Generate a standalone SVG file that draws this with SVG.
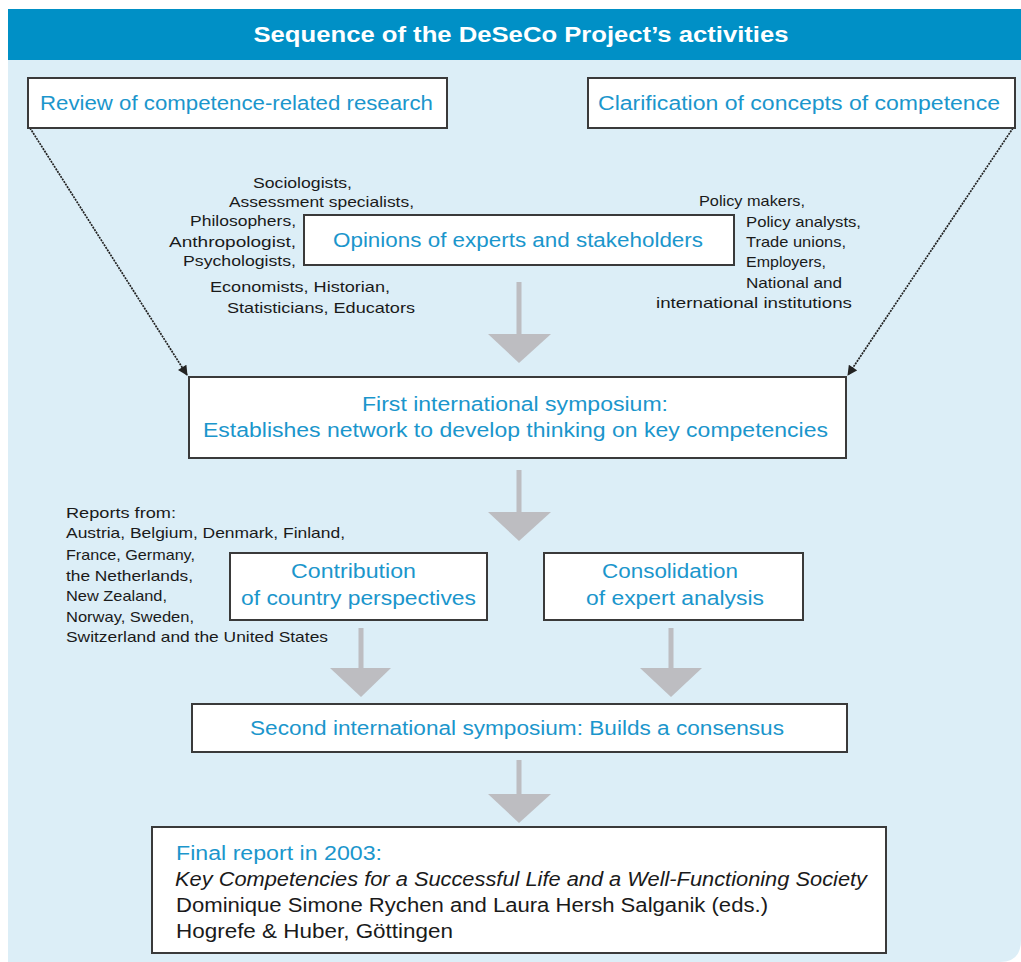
<svg xmlns="http://www.w3.org/2000/svg" width="1021" height="962" viewBox="0 0 1021 962">
<style>
.box{fill:#fff;stroke:#3a3a3a;stroke-width:2}
.bt{font-family:"Liberation Sans",Arial,sans-serif;font-size:20px;fill:#1b96cc}
.sm{font-family:"Liberation Sans",Arial,sans-serif;font-size:14.5px;fill:#1a1a1a}
.fk{font-family:"Liberation Sans",Arial,sans-serif;font-size:20px;fill:#1a1a1a}
.diag{stroke:#222;stroke-width:1.7;stroke-dasharray:2 1;fill:none}
.gshaft{stroke:#bdbdc1;stroke-width:5}
.ghead{fill:#bdbdc1}
</style>
<defs>
<marker id="ah" viewBox="0 0 10 10" refX="9" refY="5" markerWidth="11" markerHeight="10" orient="auto" markerUnits="userSpaceOnUse">
<path d="M0,0 L10,5 L0,10 z" fill="#222"/>
</marker>
</defs>
<rect x="0" y="0" width="1021" height="962" fill="#fff"/>
<path d="M8,60 H1021 V940 Q1021,962 1000,962 H8 Z" fill="#dceef7"/>
<rect x="8" y="9" width="1013" height="51" fill="#0090c6"/>
<text x="521" y="42" text-anchor="middle" font-family="'Liberation Sans',Arial,sans-serif" font-size="22" font-weight="bold" fill="#fff" textLength="535" lengthAdjust="spacingAndGlyphs">Sequence of the DeSeCo Project’s activities</text>

<g id="connectors">
<line class="diag" x1="30" y1="128" x2="187" y2="375" marker-end="url(#ah)"/>
<line class="diag" x1="1013" y1="128" x2="848" y2="375" marker-end="url(#ah)"/>
<line class="gshaft" x1="519" y1="282" x2="519" y2="336"/>
<polygon class="ghead" points="488,334 551,334 519,363"/>
<line class="gshaft" x1="519" y1="470" x2="519" y2="514"/>
<polygon class="ghead" points="488,512 551,512 519,541"/>
<line class="gshaft" x1="361" y1="628" x2="361" y2="670"/>
<polygon class="ghead" points="330,668 391,668 361,697"/>
<line class="gshaft" x1="671" y1="628" x2="671" y2="670"/>
<polygon class="ghead" points="640,668 702,668 671,697"/>
<line class="gshaft" x1="519" y1="760" x2="519" y2="796"/>
<polygon class="ghead" points="488,794 551,794 519,823"/>
</g>

<g id="review">
<rect class="box" x="28" y="78" width="419" height="50"/>
<text class="bt" x="40" y="110" textLength="393" lengthAdjust="spacingAndGlyphs">Review of competence-related research</text>
</g>
<g id="clarification">
<rect class="box" x="588" y="78" width="427" height="50"/>
<text class="bt" x="598" y="110" textLength="402" lengthAdjust="spacingAndGlyphs">Clarification of concepts of competence</text>
</g>
<g id="opinions">
<rect class="box" x="304" y="215" width="430" height="50"/>
<text class="bt" x="333" y="247" textLength="370" lengthAdjust="spacingAndGlyphs">Opinions of experts and stakeholders</text>
</g>
<g id="experts-left">
<text class="sm" x="253" y="188" textLength="99" lengthAdjust="spacingAndGlyphs">Sociologists,</text>
<text class="sm" x="229" y="207" textLength="185" lengthAdjust="spacingAndGlyphs">Assessment specialists,</text>
<text class="sm" x="190" y="226" textLength="106" lengthAdjust="spacingAndGlyphs">Philosophers,</text>
<text class="sm" x="169" y="247" textLength="127" lengthAdjust="spacingAndGlyphs">Anthropologist,</text>
<text class="sm" x="183" y="266" textLength="113" lengthAdjust="spacingAndGlyphs">Psychologists,</text>
<text class="sm" x="210" y="292" textLength="180" lengthAdjust="spacingAndGlyphs">Economists, Historian,</text>
<text class="sm" x="227" y="313" textLength="188" lengthAdjust="spacingAndGlyphs">Statisticians, Educators</text>
</g>
<g id="stakeholders-right">
<text class="sm" x="699" y="206" textLength="106" lengthAdjust="spacingAndGlyphs">Policy makers,</text>
<text class="sm" x="746" y="227" textLength="115" lengthAdjust="spacingAndGlyphs">Policy analysts,</text>
<text class="sm" x="746" y="247" textLength="100" lengthAdjust="spacingAndGlyphs">Trade unions,</text>
<text class="sm" x="746" y="267" textLength="80" lengthAdjust="spacingAndGlyphs">Employers,</text>
<text class="sm" x="746" y="288" textLength="96" lengthAdjust="spacingAndGlyphs">National and</text>
<text class="sm" x="656" y="308" textLength="196" lengthAdjust="spacingAndGlyphs">international institutions</text>
</g>
<g id="first-symposium">
<rect class="box" x="189" y="377" width="657" height="81"/>
<text class="bt" x="362" y="411" textLength="306" lengthAdjust="spacingAndGlyphs">First international symposium:</text>
<text class="bt" x="203" y="437" textLength="625" lengthAdjust="spacingAndGlyphs">Establishes network to develop thinking on key competencies</text>
</g>
<g id="reports">
<text class="sm" x="66" y="518" textLength="110" lengthAdjust="spacingAndGlyphs">Reports from:</text>
<text class="sm" x="66" y="538" textLength="279" lengthAdjust="spacingAndGlyphs">Austria, Belgium, Denmark, Finland,</text>
<text class="sm" x="66" y="560" textLength="129" lengthAdjust="spacingAndGlyphs">France, Germany,</text>
<text class="sm" x="66" y="581" textLength="127" lengthAdjust="spacingAndGlyphs">the Netherlands,</text>
<text class="sm" x="66" y="601" textLength="101" lengthAdjust="spacingAndGlyphs">New Zealand,</text>
<text class="sm" x="66" y="622" textLength="128" lengthAdjust="spacingAndGlyphs">Norway, Sweden,</text>
<text class="sm" x="66" y="642" textLength="262" lengthAdjust="spacingAndGlyphs">Switzerland and the United States</text>
</g>
<g id="contribution">
<rect class="box" x="230" y="553" width="257" height="67"/>
<text class="bt" x="291" y="578" textLength="125" lengthAdjust="spacingAndGlyphs">Contribution</text>
<text class="bt" x="241" y="605" textLength="235" lengthAdjust="spacingAndGlyphs">of country perspectives</text>
</g>
<g id="consolidation">
<rect class="box" x="544" y="553" width="259" height="67"/>
<text class="bt" x="602" y="578" textLength="136" lengthAdjust="spacingAndGlyphs">Consolidation</text>
<text class="bt" x="586" y="605" textLength="178" lengthAdjust="spacingAndGlyphs">of expert analysis</text>
</g>
<g id="second-symposium">
<rect class="box" x="192" y="704" width="655" height="48"/>
<text class="bt" x="250" y="735" textLength="534" lengthAdjust="spacingAndGlyphs">Second international symposium: Builds a consensus</text>
</g>
<g id="final-report">
<rect class="box" x="152" y="827" width="734" height="126"/>
<text class="bt" x="176" y="860" textLength="206" lengthAdjust="spacingAndGlyphs">Final report in 2003:</text>
<text class="fk" x="175" y="886" font-style="italic" textLength="692" lengthAdjust="spacingAndGlyphs">Key Competencies for a Successful Life and a Well-Functioning Society</text>
<text class="fk" x="176" y="912" textLength="592" lengthAdjust="spacingAndGlyphs">Dominique Simone Rychen and Laura Hersh Salganik (eds.)</text>
<text class="fk" x="176" y="938" textLength="277" lengthAdjust="spacingAndGlyphs">Hogrefe &amp; Huber, Göttingen</text>
</g>
</svg>
